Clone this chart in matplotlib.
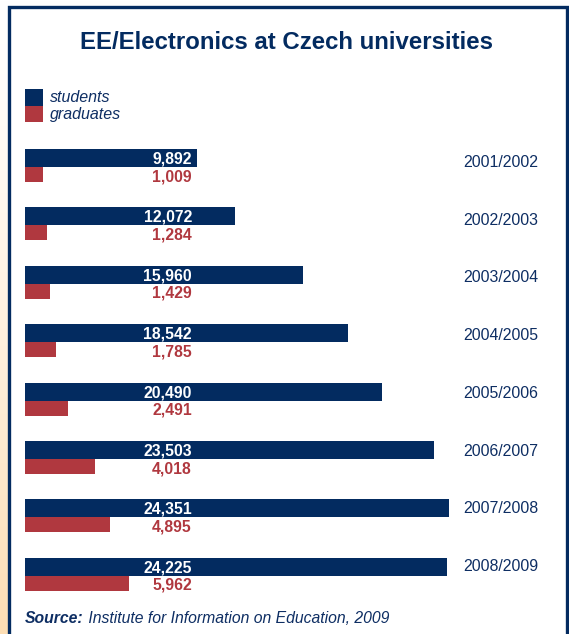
import numpy as np
import matplotlib
matplotlib.use("Agg")
import matplotlib.pyplot as plt
from matplotlib.patches import Rectangle
from matplotlib.transforms import blended_transform_factory

# ---- data ----
years = ["2001/2002", "2002/2003", "2003/2004", "2004/2005",
         "2005/2006", "2006/2007", "2007/2008", "2008/2009"]
students = [9892, 12072, 15960, 18542, 20490, 23503, 24351, 24225]
graduates = [1009, 1284, 1429, 1785, 2491, 4018, 4895, 5962]

title = "EE/Electronics at Czech universities"
source_bold = "Source:"
source_text = " Institute for Information on Education, 2009"

NAVY = "#032B60"
RED = "#B0383F"
TXT = "#0E2E63"

W, H = 569, 634
plt.rcParams['font.family'] = ['Liberation Sans', 'DejaVu Sans']
fig = plt.figure(figsize=(W / 100, H / 100), dpi=100)
fig.patch.set_facecolor("white")

def fx(px):
    return px / W

def fy(py):
    return 1 - py / H

# background gradient outside frame (left strip)
bg = fig.add_axes([0, 0, 1, 1], zorder=-10)
bg.set_axis_off()
grad = np.linspace(0, 1, 256) ** 1.3
top = np.array([1.0, 1.0, 1.0])
bot = np.array([253, 222, 180]) / 255
img = top[None, :] * (1 - grad[:, None]) + bot[None, :] * grad[:, None]
bg.imshow(img[:, None, :], aspect="auto", extent=[0, 1, 0, 1], origin="upper")
bg.set_xlim(0, 1)
bg.set_ylim(0, 1)
# white panel with navy frame
bg.add_patch(Rectangle((fx(8.5), fy(700)), fx(566.5) - fx(8.5), fy(7.5) - fy(700),
                       facecolor="white", edgecolor=NAVY, linewidth=2.4,
                       transform=fig.transFigure))

# bars axes
PX_PER_UNIT = 58.4
x0, x1 = 25, 449
top_px = 149
nav_h = 18 / PX_PER_UNIT
red_h = 15 / PX_PER_UNIT
red_off = (9 + 7.5) / PX_PER_UNIT
y_top = -nav_h / 2
y_bot = (len(years) - 1) + red_off + red_h / 2
bot_px = top_px + (y_bot - y_top) * PX_PER_UNIT
ax = fig.add_axes([fx(x0), fy(bot_px), fx(x1) - fx(x0), fy(top_px) - fy(bot_px)])
ax.set_axis_off()
ax.set_xlim(0, max(students))
ax.set_ylim(y_bot, y_top)

pos = np.arange(len(years))
ax.barh(pos, students, height=nav_h, color=NAVY, align="center")
ax.barh(pos + red_off, graduates, height=red_h, color=RED, align="center")

tr = blended_transform_factory(fig.transFigure, ax.transData)
for i, (y, s, g) in enumerate(zip(years, students, graduates)):
    ax.text(fx(192), i + 5.5 / PX_PER_UNIT, f"{s:,}", transform=tr, ha="right",
            va="baseline", color="white", fontsize=11.3, fontweight="bold")
    ax.text(fx(192), i + 23 / PX_PER_UNIT, f"{g:,}", transform=tr, ha="right",
            va="baseline", color=RED, fontsize=11.3, fontweight="bold")
    ax.text(fx(463), i + (9 - 0.7 * i) / PX_PER_UNIT, y, transform=tr, ha="left",
            va="baseline", color=TXT, fontsize=11.4)

# title
fig.text(fx(286.5), fy(49), title, ha="center", va="baseline", color=NAVY,
         fontsize=17.3, fontweight="bold")

# legend
fig.add_artist(Rectangle((fx(25), fy(106)), fx(43) - fx(25), fy(89) - fy(106),
                         facecolor=NAVY, edgecolor="none", transform=fig.transFigure))
fig.add_artist(Rectangle((fx(25), fy(122)), fx(43) - fx(25), fy(106) - fy(122),
                         facecolor=RED, edgecolor="none", transform=fig.transFigure))
fig.text(fx(50), fy(102), "students", ha="left", va="baseline", color=TXT,
         fontsize=11.5, style="italic")
fig.text(fx(50), fy(119), "graduates", ha="left", va="baseline", color=TXT,
         fontsize=11.5, style="italic")

# source
t1 = fig.text(fx(25), fy(623), source_bold, ha="left", va="baseline", color=TXT,
              fontsize=11.3, style="italic", fontweight="bold")
fig.canvas.draw()
bb = t1.get_window_extent()
fig.text(bb.x1 / W, fy(623), source_text, ha="left", va="baseline", color=TXT,
         fontsize=11.3, style="italic")

fig.savefig("out.png", dpi=100)
